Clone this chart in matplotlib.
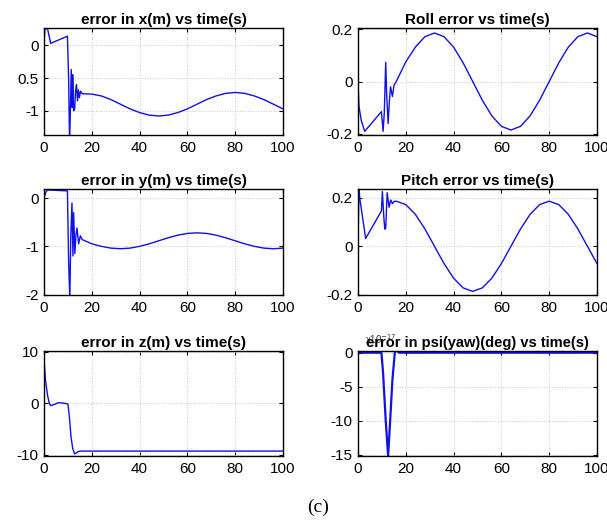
import matplotlib
matplotlib.use("Agg")
import matplotlib.pyplot as plt

# smooth part of the signals, sampled every 4 s from t = 16 s
t_slow = [16, 20, 24, 28, 32, 36, 40, 44, 48, 52, 56, 60, 64, 68, 72, 76, 80, 84, 88, 92, 96, 100]

# error in x(m)
t_x = [0, 0.4, 1.5, 2.8, 9.8, 10.3, 10.7, 11.1, 11.4, 11.8, 12.0, 12.4, 12.8, 13.2, 13.6, 14.0, 14.4, 14.8, 15.3]
x_err = [0.03, 0.26, 0.25, 0.03, 0.14, -0.5, -1.5, -0.9, -0.37, -0.95, -0.45, -1.0, -0.98, -0.7, -0.6, -0.85, -0.68, -0.8, -0.7]
x_slow = [-0.74, -0.745, -0.773, -0.829, -0.9, -0.971, -1.027, -1.066, -1.08, -1.066, -1.027,
          -0.971, -0.9, -0.829, -0.773, -0.734, -0.72, -0.734, -0.773, -0.829, -0.9, -0.971]

# error in y(m)
t_y = [0, 1.0, 2.0, 9.8, 10.3, 10.8, 11.2, 11.7, 12.1, 12.4, 12.9, 13.4, 13.8, 14.5, 15.2]
y_err = [0, 0.15, 0.17, 0.15, -1.3, -2.1, -0.8, -0.1, -1.2, -0.3, -1.15, -0.75, -0.62, -0.95, -0.78]
y_slow = [-0.86, -0.948, -1.0, -1.037, -1.05, -1.037, -1.0, -0.948, -0.885, -0.822, -0.768,
          -0.732, -0.72, -0.732, -0.768, -0.822, -0.885, -0.948, -1.0, -1.037, -1.05, -1.037]

# roll error
t_roll = [0, 0.4, 1.4, 2.8, 9.8, 10.5, 11.0, 11.6, 12.0, 12.6, 13.1, 13.6, 14.4, 15.1]
roll = [0, -0.095, -0.15, -0.19, -0.115, -0.19, -0.12, 0.073, -0.05, -0.16, -0.08, -0.02, -0.057, -0.013]
roll_slow = [0, 0.075, 0.131, 0.171, 0.185, 0.171, 0.131, 0.071, 0, -0.071, -0.131,
             -0.171, -0.185, -0.171, -0.131, -0.071, 0, 0.071, 0.131, 0.171, 0.185, 0.171]

# pitch error
t_pitch = [0, 0.4, 0.7, 3.2, 9.8, 10.2, 10.8, 11.2, 11.6, 12.2, 13.0, 13.7, 14.4, 15.1]
pitch = [0, 0.25, 0.2, 0.032, 0.145, 0.225, 0.12, 0.07, 0.075, 0.22, 0.16, 0.19, 0.175, 0.184]
pitch_slow = [0.185, 0.171, 0.131, 0.071, 0, -0.071, -0.131, -0.171, -0.185, -0.171, -0.131,
              -0.071, 0, 0.071, 0.131, 0.171, 0.185, 0.171, 0.131, 0.071, 0, -0.071]

# error in z(m)
t_z = [0, 0.3, 0.6, 1.5, 2.2, 2.8, 4, 6, 8, 10, 10.6, 11.3, 12, 12.8, 13.5, 14.5, 16, 100]
z_err = [8.2, 6.5, 4.5, 1.5, 0, -0.45, -0.3, 0.1, 0.05, -0.15, -2.5, -6.5, -8.7, -9.8, -9.6, -9.3, -9.25, -9.25]

# error in psi (yaw)
t_yaw = [0, 9.8, 10.5, 11.6, 12.6, 13.3, 14.4, 15.4, 16.0, 17.2, 100]
yaw = [0, 0, -3, -10, -15.2, -11, -4, 0, 0.4, 0, 0]

panels = [
    ("error in x(m) vs time(s)", t_x + t_slow, x_err + x_slow, (-1.37, 0.265), [0, -0.5, -1], ["0", "0.5", "-1"]),
    ("Roll error vs time(s)", t_roll + t_slow, roll + roll_slow, (-0.204, 0.204), [0.2, 0, -0.2], ["0.2", "0", "-0.2"]),
    ("error in y(m) vs time(s)", t_y + t_slow, y_err + y_slow, (-2.01, 0.19), [0, -1, -2], ["0", "-1", "-2"]),
    ("Pitch error vs time(s)", t_pitch + t_slow, pitch + pitch_slow, (-0.2, 0.235), [0.2, 0, -0.2], ["0.2", "0", "-0.2"]),
    ("error in z(m) vs time(s)", t_z, z_err, (-10.2, 10.1), [10, 0, -10], ["10", "0", "-10"]),
    ("error in psi(yaw)(deg) vs time(s)", t_yaw, yaw, (-15.2, 0.25), [0, -5, -10, -15], ["0", "-5", "-10", "-15"]),
]

plt.rcParams["font.family"] = ["Liberation Sans", "DejaVu Sans"]

fig = plt.figure(figsize=(6.07, 5.2), dpi=100)
W, H = 607, 520
lefts = [44, 358]
rows = [(28, 135), (189, 295), (351, 456)]

for i, (title, t, v, ylim, yt, ylab) in enumerate(panels):
    left = lefts[i % 2]
    top, bottom = rows[i // 2]
    ax = fig.add_axes([left / W, 1 - bottom / H, 239 / W, (bottom - top) / H])
    lw = 1.6 if i == 5 else 1.0
    ax.plot(t, v, color="#1010e8", lw=lw)
    ax.set_xlim(0, 100)
    ax.set_ylim(*ylim)
    ax.set_xticks([0, 20, 40, 60, 80, 100])
    ax.set_yticks(yt)
    ax.set_yticklabels(ylab)
    ax.grid(True, linestyle=":", color="#c8c8c8", lw=0.7)
    ax.tick_params(direction="in", top=True, right=True, length=3, labelsize=11, pad=4)
    for s in ax.spines.values():
        s.set_linewidth(1.0)
    ttl_size = 10.5 if i == 5 else 11
    ax.set_title(title, fontsize=ttl_size, fontweight="bold", pad=3)
    if i == 5:
        ax.text(0.03, 1.07, "x10$^{-17}$", transform=ax.transAxes, fontsize=7, color="#333333")

fig.text(318 / W, 1 - 507 / H, "(c)", family="Liberation Serif", fontsize=14, ha="center", va="center")

fig.savefig("out.png", dpi=100)
